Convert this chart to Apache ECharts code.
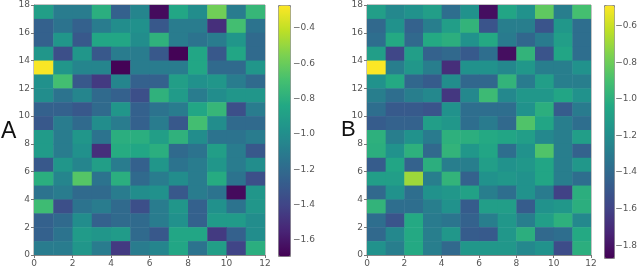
<!DOCTYPE html>
<html><head><meta charset="utf-8">
<script src="https://cdn.jsdelivr.net/npm/echarts@6/dist/echarts.min.js"></script>
<style>html,body{margin:0;padding:0;background:#fff}#c{width:640px;height:271px}</style>
</head><body><div id="c"></div>
<script>
// rows listed from top (y = 17) down to bottom (y = 0), 12 columns each
const rowsA = [
 [-0.9,-1.1,-1.1,-0.8,-1.25,-1.05,-1.65,-0.85,-1.0,-0.58,-1.1,-0.75],
 [-1.25,-1.15,-1.25,-1.1,-1.0,-0.98,-1.3,-1.1,-1.1,-1.5,-0.7,-1.15],
 [-1.25,-0.95,-1.3,-0.85,-0.85,-1.0,-0.78,-1.1,-1.15,-1.1,-0.95,-1.2],
 [-0.95,-1.35,-0.95,-1.3,-1.1,-1.1,-1.3,-1.68,-0.85,-1.3,-0.85,-1.2],
 [-0.28,-0.95,-1.05,-1.05,-1.68,-1.1,-1.1,-1.1,-0.85,-1.2,-1.2,-0.95],
 [-0.98,-0.7,-1.3,-1.45,-1.05,-1.25,-1.25,-0.9,-0.98,-0.95,-1.1,-1.2],
 [-1.0,-1.15,-1.05,-1.2,-1.25,-1.35,-0.78,-0.92,-1.1,-1.0,-0.95,-0.95],
 [-1.25,-1.25,-1.3,-1.2,-0.95,-1.25,-1.15,-1.1,-0.85,-0.75,-1.35,-1.1],
 [-1.3,-1.1,-1.2,-1.0,-1.1,-1.25,-1.1,-1.3,-0.7,-1.0,-1.2,-1.2],
 [-0.92,-1.1,-0.95,-1.15,-0.8,-0.8,-0.9,-0.78,-1.0,-1.15,-1.15,-1.1],
 [-0.92,-1.1,-0.98,-1.5,-0.82,-0.85,-0.8,-1.2,-1.15,-0.9,-1.1,-1.3],
 [-1.3,-0.95,-1.05,-0.9,-1.1,-1.25,-0.95,-1.15,-1.1,-0.95,-1.1,-1.0],
 [-0.8,-1.05,-0.65,-1.15,-0.8,-1.2,-1.1,-1.0,-1.1,-0.82,-1.15,-1.35],
 [-1.15,-1.1,-1.2,-1.2,-1.1,-1.0,-0.98,-1.3,-1.1,-1.15,-1.65,-0.95],
 [-0.72,-1.35,-1.15,-1.1,-1.2,-1.35,-1.1,-0.95,-1.25,-0.98,-1.15,-0.95],
 [-1.25,-1.2,-1.0,-1.25,-1.2,-1.2,-1.1,-0.98,-1.25,-0.92,-0.92,-1.0],
 [-1.25,-1.15,-0.92,-0.95,-0.92,-1.2,-1.3,-0.85,-0.85,-1.45,-1.25,-1.0],
 [-1.1,-1.1,-0.95,-1.1,-1.45,-1.1,-1.05,-0.85,-1.15,-0.9,-1.4,-0.8]
];
const rowsB = [
 [-1.1,-1.23,-1.17,-1.1,-1.37,-1.17,-1.82,-1.06,-1.17,-0.83,-1.28,-0.9],
 [-1.4,-1.17,-1.44,-1.28,-1.1,-0.97,-1.51,-1.28,-1.28,-1.51,-1.14,-1.37],
 [-1.37,-1.03,-1.4,-1.03,-1.0,-1.17,-1.03,-1.3,-1.41,-1.3,-1.1,-1.37],
 [-1.1,-1.58,-1.1,-1.44,-1.4,-1.48,-1.37,-1.82,-0.97,-1.51,-1.06,-1.37],
 [-0.49,-1.28,-1.14,-1.28,-1.69,-1.17,-1.17,-1.23,-1.14,-1.28,-1.28,-1.17],
 [-1.17,-1.03,-1.41,-1.47,-1.2,-1.41,-1.41,-0.97,-1.3,-1.1,-1.28,-1.28],
 [-1.28,-1.37,-1.28,-1.23,-1.65,-1.23,-0.93,-1.23,-1.14,-1.14,-1.06,-1.17],
 [-1.37,-1.48,-1.48,-1.51,-1.17,-1.37,-1.37,-1.37,-1.17,-1.0,-1.47,-1.3],
 [-1.47,-1.44,-1.44,-1.1,-1.14,-1.37,-1.3,-1.4,-0.87,-1.06,-1.28,-1.37],
 [-0.99,-1.28,-1.17,-1.3,-0.99,-1.0,-1.03,-1.06,-1.1,-1.23,-1.28,-1.1],
 [-1.0,-1.17,-0.99,-1.4,-0.97,-1.14,-1.06,-1.37,-1.17,-0.87,-1.28,-1.44],
 [-1.47,-1.06,-1.44,-1.0,-1.28,-1.28,-1.1,-1.17,-1.14,-1.06,-1.28,-1.14],
 [-1.1,-1.1,-0.69,-1.28,-0.97,-1.44,-1.17,-1.14,-1.17,-1.06,-1.28,-1.37],
 [-1.4,-1.17,-1.37,-1.17,-1.14,-1.08,-1.28,-1.37,-1.17,-1.3,-1.6,-1.0],
 [-0.97,-1.37,-1.37,-1.28,-1.17,-1.47,-1.1,-1.1,-1.47,-1.17,-1.14,-1.0],
 [-1.37,-1.51,-1.03,-1.3,-1.33,-1.44,-1.28,-1.14,-1.28,-1.1,-0.99,-1.23],
 [-1.4,-1.23,-1.03,-1.28,-1.14,-1.47,-1.48,-1.14,-1.0,-1.4,-1.37,-1.03],
 [-1.17,-1.28,-1.03,-1.28,-1.4,-1.14,-1.14,-1.14,-1.23,-1.17,-1.55,-1.0]
];
const rangeA = [-1.69, -0.27];
const rangeB = [-1.87, -0.485];
const cbTicksA = [-1.6,-1.4,-1.2,-1.0,-0.8,-0.6,-0.4];
const cbTicksB = [-1.8,-1.6,-1.4,-1.2,-1.0,-0.8,-0.6];
const panelLabels = ['A','B'];

const viridis = ['#440154','#482475','#414487','#355f8d','#2a788e','#21918c','#22a884','#44bf70','#7ad151','#bddf26','#fde725'];
function toData(rows){
  const out=[]; const n=rows.length;
  rows.forEach((r,i)=>r.forEach((v,j)=>out.push([j, n-1-i, v])));
  return out;
}
const fontF = 'DejaVu Sans';
const lab = {fontSize:9, color:'#555', fontFamily:fontF, margin:4};
function cellAxisX(gi){return {type:'value',gridIndex:gi,min:0,max:12,interval:2,
  axisLine:{show:true,lineStyle:{color:'#888'}},axisTick:{show:true,length:3,lineStyle:{color:'#777'}},
  splitLine:{show:false},axisLabel:lab};}
function cellAxisY(gi){return {type:'value',gridIndex:gi,min:0,max:18,interval:2,
  axisLine:{show:true,lineStyle:{color:'#888'}},axisTick:{show:true,length:3,lineStyle:{color:'#777'}},
  splitLine:{show:false},axisLabel:lab};}
function cbY(gi,range,ticks){return {type:'value',gridIndex:gi,min:range[0],max:range[1],position:'right',
  axisLine:{show:false},splitLine:{show:false},
  axisTick:{show:true,length:3,lineStyle:{color:'#777'},customValues:ticks},
  axisLabel:{fontSize:9,color:'#555',fontFamily:fontF,margin:3,customValues:ticks,
    formatter:v=>v.toFixed(1).replace('-','\u2212')}};}
function renderCell(params, api){
  const x=api.value(0), y=api.value(1);
  const p0=api.coord([x,y+1]), p1=api.coord([x+1,y]);
  return {type:'rect',shape:{x:p0[0],y:p0[1],width:p1[0]-p0[0]+0.5,height:p1[1]-p0[1]+0.5},
    style:{fill:api.visual('color')}};
}
const chart = echarts.init(document.getElementById('c'), null, {renderer:'canvas'});
chart.setOption({
  animation:false,
  grid:[
    {left:34,top:5,width:231,height:250,show:true,borderColor:'#888',borderWidth:1,backgroundColor:'transparent'},
    {left:367,top:5,width:224,height:250,show:true,borderColor:'#888',borderWidth:1,backgroundColor:'transparent'},
    {left:278,top:5,width:12,height:251},
    {left:604,top:5,width:10,height:253}
  ],
  xAxis:[cellAxisX(0),cellAxisX(1),
    {type:'value',gridIndex:2,show:false,min:0,max:1},{type:'value',gridIndex:3,show:false,min:0,max:1}],
  yAxis:[cellAxisY(0),cellAxisY(1),cbY(2,rangeA,cbTicksA),cbY(3,rangeB,cbTicksB)],
  visualMap:[
    {type:'continuous',seriesIndex:0,dimension:2,min:rangeA[0],max:rangeA[1],inRange:{color:viridis},
     left:278,top:5,itemWidth:12,itemHeight:251,padding:0,calculable:false,hoverLink:false,
     borderColor:'#888',borderWidth:1,text:null,showLabel:false},
    {type:'continuous',seriesIndex:1,dimension:2,min:rangeB[0],max:rangeB[1],inRange:{color:viridis},
     left:604,top:5,itemWidth:10,itemHeight:253,padding:0,calculable:false,hoverLink:false,
     borderColor:'#888',borderWidth:1,text:null,showLabel:false}
  ],
  series:[
    {type:'custom',xAxisIndex:0,yAxisIndex:0,data:toData(rowsA),renderItem:renderCell,encode:{x:0,y:1},clip:true},
    {type:'custom',xAxisIndex:1,yAxisIndex:1,data:toData(rowsB),renderItem:renderCell,encode:{x:0,y:1},clip:true},
    {type:'line',xAxisIndex:2,yAxisIndex:2,data:[]},
    {type:'line',xAxisIndex:3,yAxisIndex:3,data:[]}
  ],
  graphic:[
    {type:'text',left:1,top:120,style:{text:panelLabels[0],font:'23px "Liberation Sans"',fill:'#111'}},
    {type:'text',left:341,top:119,style:{text:panelLabels[1],font:'22px "Liberation Sans"',fill:'#111'}}
  ]
});
</script></body></html>
